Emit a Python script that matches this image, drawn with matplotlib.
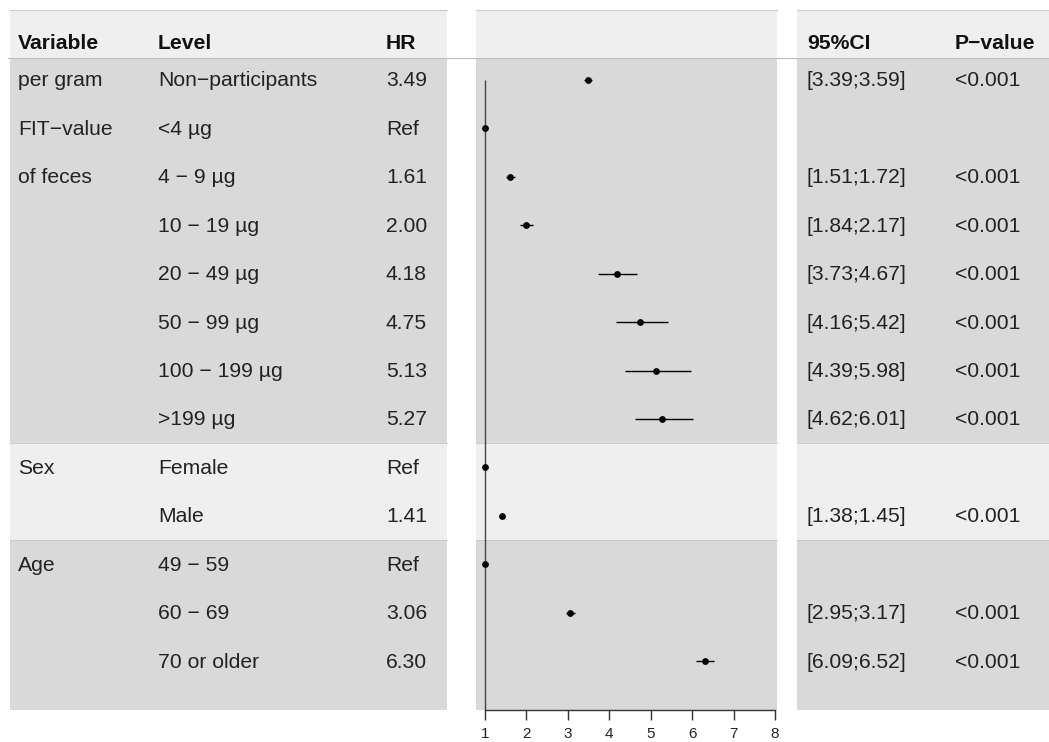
import matplotlib.pyplot as plt

plt.rcParams['font.family'] = ['Liberation Sans', 'DejaVu Sans']

# ---- data ----
variables = ["per gram", "FIT−value", "of feces", "", "", "", "", "",
             "Sex", "", "Age", "", ""]
levels = ["Non−participants", "<4 µg", "4 − 9 µg", "10 − 19 µg", "20 − 49 µg",
          "50 − 99 µg", "100 − 199 µg", ">199 µg", "Female", "Male",
          "49 − 59", "60 − 69", "70 or older"]
hr = [3.49, 1.00, 1.61, 2.00, 4.18, 4.75, 5.13, 5.27, 1.00, 1.41, 1.00, 3.06, 6.30]
lo = [3.39, None, 1.51, 1.84, 3.73, 4.16, 4.39, 4.62, None, 1.38, None, 2.95, 6.09]
hi = [3.59, None, 1.72, 2.17, 4.67, 5.42, 5.98, 6.01, None, 1.45, None, 3.17, 6.52]
is_ref = [False, True, False, False, False, False, False, False, True, False, True, False, False]
group_sizes = [8, 2, 3]
xticks = [1, 2, 3, 4, 5, 6, 7, 8]

# ---- layout (pixels) ----
W, H = 1049, 742
DARK, LIGHT, HEAD = '#d9d9d9', '#efefef', '#efefef'
panels = [(10, 447), (476, 777), (797, 1049)]
top, head_bot, bottom = 10, 58, 710
row0, row_h = 80, 48.42

def row_y(i):
    return row0 + row_h * i

fig = plt.figure(figsize=(W / 100, H / 100), dpi=100)
bg = fig.add_axes([0, 0, 1, 1])
bg.set_xlim(0, W)
bg.set_ylim(H, 0)
bg.axis('off')

# header band and group shading
bounds = [head_bot]
start = 0
for n in group_sizes:
    start += n
    bounds.append(row_y(start - 0.5))
bounds[-1] = bottom
for x0, x1 in panels:
    bg.fill_between([x0, x1], top, head_bot, color=HEAD, lw=0, zorder=0)
    bg.plot([x0, x1], [top - 0.5, top - 0.5], color='#cccccc', lw=0.8, zorder=1)
    for g in range(len(group_sizes)):
        col = DARK if g % 2 == 0 else LIGHT
        bg.fill_between([x0, x1], bounds[g], bounds[g + 1], color=col, lw=0, zorder=0)
        if 0 < g:
            bg.plot([x0, x1], [bounds[g], bounds[g]], color='#c8c8c8', lw=0.6, zorder=1)
bg.plot([8, W], [head_bot, head_bot], color='#bdbdbd', lw=0.8, zorder=2)

# table text
fs = 15.2
cols = {'var': 18, 'lev': 158, 'hr': 386, 'ci': 807, 'p': 955}
head_y = 49
for key, lab in [('var', 'Variable'), ('lev', 'Level'), ('hr', 'HR'),
                 ('ci', '95%CI'), ('p', 'P−value')]:
    bg.text(cols[key], head_y, lab, fontsize=fs, fontweight='bold',
            va='baseline', ha='left', color='#111111')

for i in range(len(levels)):
    yb = row_y(i) + 6.5
    bg.text(cols['var'], yb, variables[i], fontsize=fs, va='baseline', color='#222222')
    bg.text(cols['lev'], yb, levels[i], fontsize=fs, va='baseline', color='#222222')
    bg.text(cols['hr'], yb, 'Ref' if is_ref[i] else f'{hr[i]:.2f}',
            fontsize=fs, va='baseline', color='#222222')
    if not is_ref[i]:
        bg.text(cols['ci'], yb, f'[{lo[i]:.2f};{hi[i]:.2f}]', fontsize=fs,
                va='baseline', color='#222222')
        bg.text(cols['p'], yb, '<0.001', fontsize=fs, va='baseline', color='#222222')

# ---- forest panel ----
px_per_unit = (775 - 485) / 7
fx0, fx1 = panels[1]
ax = fig.add_axes([fx0 / W, 1 - bottom / H, (fx1 - fx0) / W, (bottom - head_bot) / H])
ax.patch.set_alpha(0)
ax.set_xlim(1 - (485 - fx0) / px_per_unit, 8 + (fx1 - 775) / px_per_unit)
ax.set_ylim((bottom - row0) / row_h, (head_bot - row0) / row_h)
for s in ['top', 'right', 'left']:
    ax.spines[s].set_visible(False)
ax.spines['bottom'].set_bounds(1, 8)
ax.spines['bottom'].set_linewidth(1.0)
ax.spines['bottom'].set_color('#333333')
ax.set_yticks([])
ax.set_xticks(xticks)
ax.tick_params(axis='x', length=7, width=1.0, labelsize=11, pad=5,
               color='#333333', labelcolor='#222222')

ax.vlines(1, 0, (bottom - row0) / row_h, color='#444444', lw=1.0)
rows = list(range(len(levels)))
for i in rows:
    if lo[i] is not None:
        ax.hlines(i, lo[i], hi[i], color='black', lw=1.0)
ax.scatter(hr, rows, s=24, color='black', zorder=3, linewidths=0)

fig.savefig('out.png', dpi=100)
